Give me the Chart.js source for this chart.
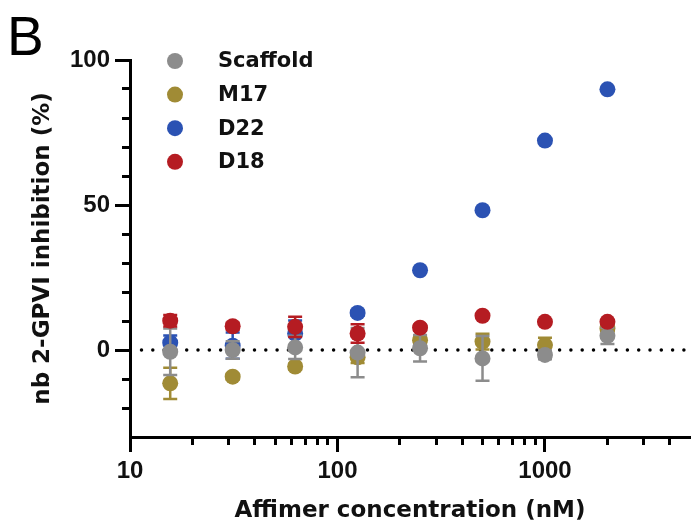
<!DOCTYPE html>
<html>
<head>
<meta charset="utf-8">
<script src="https://cdn.jsdelivr.net/npm/chart.js@4/dist/chart.umd.min.js"></script>
<style>
  html, body { margin: 0; padding: 0; background: #fff; }
  canvas { display: block; }
</style>
</head>
<body>
<canvas id="c" width="698" height="529"></canvas>
<script>
// Affimer concentrations (nM), two-fold dilution series
const concentrations = [15.625, 31.25, 62.5, 125, 250, 500, 1000, 2000];

// Mean inhibition (%) and SD per series
const scaffoldMean = [-0.6, 0.0, 0.9, -0.9, 0.6, -2.9, -1.7, 4.9];
const scaffoldSD   = [8.0, 3.0, 4.0, 8.5, 4.6, 7.7, 1.5, 2.8];
const m17Mean      = [-11.5, -9.2, -5.7, -2.5, 3.4, 2.9, 1.7, 7.4];
const m17SD        = [5.4, 1.0, 1.0, 2.0, 1.5, 2.7, 2.5, 1.0];
const d22Mean      = [2.5, 1.5, 5.7, 12.8, 27.5, 48.2, 72.2, 89.9];
const d22SD        = [2.5, 4.5, 4.5, 1.0, 0, 0, 0, 0];
const d18Mean      = [10.1, 8.2, 8.0, 5.7, 7.7, 11.8, 9.7, 9.7];
const d18SD        = [2.0, 1.2, 3.5, 3.2, 1.0, 0, 0, 0];

const seriesNames  = ['Scaffold', 'M17', 'D22', 'D18'];
const seriesColors = ['#8c8c8c', '#a08b35', '#2b52b3', '#b51c22'];

// Axis ticks
const xMajorTicks = [10, 100, 1000];
const xMinorTicks = [20, 30, 40, 50, 60, 70, 80, 90,
                     200, 300, 400, 500, 600, 700, 800, 900,
                     2000, 3000, 4000];
const yMajorTicks = [0, 50, 100];
const yMinorTicks = [-20, -10, 10, 20, 30, 40, 60, 70, 80, 90];

const X_MIN = 10, X_MAX = 5000, Y_MIN = -30, Y_MAX = 100;

const toPoints = (means) => means.map((v, i) => ({ x: concentrations[i], y: v }));

function series(idx, means, sds, order) {
  return {
    label: seriesNames[idx],
    data: toPoints(means),
    errors: sds,
    backgroundColor: seriesColors[idx],
    borderColor: seriesColors[idx],
    pointRadius: 8,
    pointBorderWidth: 0,
    showLine: false,
    order: order,
    xAxisID: 'x',
    yAxisID: 'y'
  };
}

// Vertical SD bars with caps, drawn just beneath each series' own markers
const errorBars = {
  id: 'errorBars',
  beforeDatasetDraw(chart, args) {
    const ds = chart.data.datasets[args.index];
    if (!ds.errors) return;
    const xs = chart.scales.x, ys = chart.scales.y, ctx = chart.ctx;
    ctx.save();
    ctx.strokeStyle = ds.backgroundColor;
    ctx.lineWidth = 2.5;
    ds.data.forEach((p, i) => {
      const e = ds.errors[i];
      if (!e) return;
      const px = xs.getPixelForValue(p.x);
      const top = ys.getPixelForValue(p.y + e);
      const bot = ys.getPixelForValue(p.y - e);
      ctx.beginPath();
      ctx.moveTo(px, top); ctx.lineTo(px, bot);
      ctx.moveTo(px - 7, top); ctx.lineTo(px + 7, top);
      ctx.moveTo(px - 7, bot); ctx.lineTo(px + 7, bot);
      ctx.stroke();
    });
    ctx.restore();
  }
};

// Legend inside the plot area, plus the panel letter
const insetLegend = {
  id: 'insetLegend',
  afterDraw(chart) {
    const { ctx, chartArea } = chart;
    ctx.save();
    ctx.font = 'bold 21px "DejaVu Sans"';
    ctx.textBaseline = 'middle';
    ctx.textAlign = 'left';
    let row = 0;
    chart.data.datasets.forEach((ds) => {
      if (!ds.label) return;
      const cy = chartArea.top + 1 + row * 33.6;
      const cx = chartArea.left + 45;
      ctx.fillStyle = ds.backgroundColor;
      ctx.beginPath();
      ctx.arc(cx, cy, 8, 0, Math.PI * 2);
      ctx.fill();
      ctx.fillStyle = '#111';
      ctx.fillText(ds.label, cx + 43, cy + 1);
      row++;
    });
    ctx.font = '55px "Liberation Sans"';
    ctx.textBaseline = 'alphabetic';
    ctx.fillStyle = '#000';
    ctx.fillText('B', 7, 55);
    ctx.restore();
  }
};

const tickFont = { family: '"Liberation Sans"', size: 24, weight: 'bold' };
const titleFont = { family: '"DejaVu Sans"', size: 23, weight: 'bold' };

new Chart(document.getElementById('c'), {
  type: 'scatter',
  data: {
    datasets: [
      series(0, scaffoldMean, scaffoldSD, 1),
      series(1, m17Mean, m17SD, 2),
      series(2, d22Mean, d22SD, 3),
      series(3, d18Mean, d18SD, 0),
      {
        // zero reference line
        data: [{ x: X_MIN, y: 0 }, { x: X_MAX, y: 0 }],
        showLine: true,
        pointRadius: 0,
        borderColor: '#000',
        borderWidth: 3.5,
        borderDash: [0, 11.3],
        borderDashOffset: -11.5,
        borderCapStyle: 'round',
        order: 10,
        xAxisID: 'x',
        yAxisID: 'y'
      }
    ]
  },
  options: {
    responsive: false,
    animation: false,
    events: [],
    devicePixelRatio: 1,
    layout: { padding: { top: 60, right: 0, bottom: 0, left: 0 } },
    plugins: {
      legend: { display: false },
      tooltip: { enabled: false },
      title: { display: false }
    },
    scales: {
      x: {
        type: 'logarithmic',
        position: 'bottom',
        min: X_MIN,
        max: X_MAX,
        afterBuildTicks: (s) => { s.ticks = xMajorTicks.map(v => ({ value: v })); },
        afterFit: (s) => { s.height = 92; },
        ticks: {
          autoSkip: false,
          maxRotation: 0,
          padding: 5,
          color: '#111',
          font: tickFont,
          callback: (v) => String(v)
        },
        grid: { drawOnChartArea: false, drawTicks: true, tickLength: 15, tickWidth: 3, tickColor: '#000' },
        border: { display: true, color: '#000', width: 3 },
        title: {
          display: true,
          text: 'Affimer concentration (nM)',
          color: '#111',
          font: titleFont,
          padding: { top: 0, bottom: 4 }
        }
      },
      xMinor: {
        type: 'logarithmic',
        axis: 'x',
        position: { y: Y_MIN },
        min: X_MIN,
        max: X_MAX,
        afterBuildTicks: (s) => { s.ticks = xMinorTicks.map(v => ({ value: v })); },
        afterFit: (s) => { s.height = 0; },
        ticks: { display: false },
        grid: { drawOnChartArea: false, drawTicks: true, tickLength: 8, tickWidth: 3, tickColor: '#000' },
        border: { display: false }
      },
      y: {
        type: 'linear',
        position: 'left',
        min: Y_MIN,
        max: Y_MAX,
        afterBuildTicks: (s) => { s.ticks = yMajorTicks.map(v => ({ value: v })); },
        afterFit: (s) => { s.width = 130; },
        ticks: {
          autoSkip: false,
          padding: 5,
          color: '#111',
          font: tickFont
        },
        grid: { drawOnChartArea: false, drawTicks: true, tickLength: 15, tickWidth: 3, tickColor: '#000' },
        border: { display: true, color: '#000', width: 3 },
        title: {
          display: true,
          text: 'nb 2-GPVI inhibition (%)',
          color: '#111',
          font: titleFont,
          padding: { top: 29, bottom: 0 }
        }
      },
      yMinor: {
        type: 'linear',
        axis: 'y',
        position: { x: X_MIN },
        min: Y_MIN,
        max: Y_MAX,
        afterBuildTicks: (s) => { s.ticks = yMinorTicks.map(v => ({ value: v })); },
        afterFit: (s) => { s.width = 0; },
        ticks: { display: false },
        grid: { drawOnChartArea: false, drawTicks: true, tickLength: 8, tickWidth: 3, tickColor: '#000' },
        border: { display: false }
      }
    }
  },
  plugins: [errorBars, insetLegend]
});
</script>
</body>
</html>
